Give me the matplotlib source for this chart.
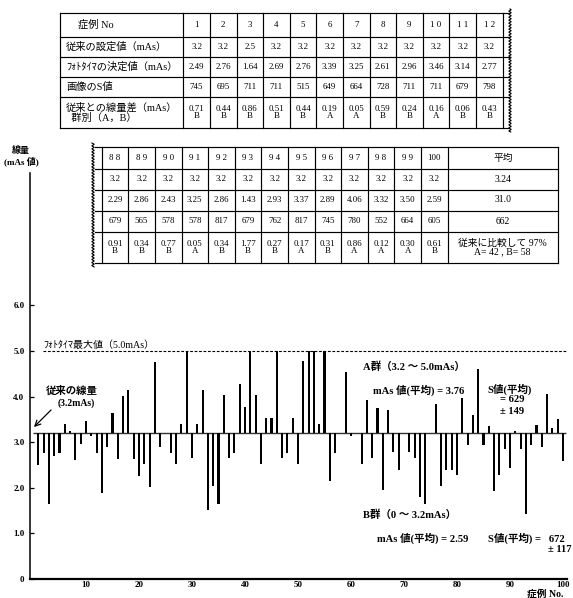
import numpy as np
import matplotlib
matplotlib.use('Agg')
import matplotlib.pyplot as plt

plt.rcParams['font.family'] = ['Liberation Serif', 'Noto Sans CJK JP']

# ---- data ----
case_no = list(range(1, 101))
phototimer_mas = [
    2.49, 2.76, 1.64, 2.69, 2.76, 3.39, 3.25, 2.61, 2.96, 3.46,
    3.14, 2.77, 1.88, 2.89, 3.64, 2.63, 4.01, 4.14, 2.63, 2.26,
    2.53, 2.02, 4.76, 2.89, 3.20, 2.76, 2.53, 3.39, 5.00, 2.65,
    3.40, 4.14, 1.52, 2.03, 1.65, 4.03, 2.65, 2.77, 4.28, 3.78,
    5.00, 4.03, 2.52, 3.52, 3.52, 5.00, 2.65, 2.77, 3.52, 2.52,
    4.78, 5.00, 5.00, 3.40, 5.00, 2.15, 2.77, 3.20, 4.53, 3.14,
    3.20, 2.52, 3.93, 2.65, 3.75, 1.95, 3.70, 2.79, 2.40, 3.20,
    2.79, 2.66, 1.79, 1.65, 3.20, 3.83, 2.03, 2.40, 2.40, 2.29,
    3.97, 2.94, 3.59, 4.61, 2.94, 3.35, 1.92, 2.29, 2.86, 2.43,
    3.25, 2.86, 1.43, 2.93, 3.37, 2.89, 4.06, 3.32, 3.50, 2.59,
]
baseline_mas = 3.2
max_mas = 5.0

y_ticks = [0, 1, 2, 3, 4, 5, 6]
y_tick_labels = ['0', '1.0', '2.0', '3.0', '4.0', '5.0', '6.0']
x_ticks = [10, 20, 30, 40, 50, 60, 70, 80, 90, 100]

row_labels = ['症例 No', '従来の設定値（mAs）', 'ﾌｫﾄﾀｲﾏの決定値（mAs）',
              '画像のS値', '従来との線量差（mAs）\n  群別（A，B）']

t1_cases = case_no[:12]
t1_conv = [3.2, 3.2, 2.5, 3.2, 3.2, 3.2, 3.2, 3.2, 3.2, 3.2, 3.2, 3.2]
t1_photo = phototimer_mas[:12]
t1_s = [745, 695, 711, 711, 515, 649, 664, 728, 711, 711, 679, 798]
t1_diff = [0.71, 0.44, 0.86, 0.51, 0.44, 0.19, 0.05, 0.59, 0.24, 0.16, 0.06, 0.43]
t1_group = ['B', 'B', 'B', 'B', 'B', 'A', 'A', 'B', 'B', 'A', 'B', 'B']

t2_cases = case_no[87:]
t2_conv = [3.2] * 13
t2_photo = phototimer_mas[87:]
t2_s = [679, 565, 578, 578, 817, 679, 762, 817, 745, 780, 552, 664, 605]
t2_diff = [0.91, 0.34, 0.77, 0.05, 0.34, 1.77, 0.27, 0.17, 0.31, 0.86, 0.12, 0.30, 0.61]
t2_group = ['B', 'B', 'B', 'A', 'B', 'B', 'B', 'A', 'B', 'A', 'A', 'A', 'B']

avg_header = '平均'
avg_values = ['3.24', '31.0', '662', '従来に比較して 97%\nA= 42 , B= 58']


def case_label(n):
    return str(n) if n >= 100 else ' '.join(str(n))


def table_columns(cases, conv, photo, s, diff, group):
    cols = []
    for i in range(len(cases)):
        cols.append([case_label(cases[i]), f'{conv[i]:g}', f'{photo[i]:.2f}',
                     str(s[i]), f'{diff[i]:.2f}\n{group[i]}'])
    return cols


fig = plt.figure(figsize=(5.73, 5.98), dpi=100)

# ---- bar chart ----
ax = fig.add_axes([30 / 573, 1 - 579 / 598, 537 / 573, 406 / 598])
ax.patch.set_alpha(0)
ax.bar(case_no, [v - baseline_mas for v in phototimer_mas], bottom=baseline_mas,
       width=0.4, color='black', zorder=3)
ax.hlines(baseline_mas, 0, 100.6, color='#333333', lw=1.0, zorder=2)
ax.hlines(max_mas, 1.8, 100.6, color='black', lw=0.8, linestyles=(0, (2.5, 1.5)))
ax.set_xlim(-0.57, 100.75)
ax.set_ylim(0, 8.9)
for side in ['top', 'right']:
    ax.spines[side].set_visible(False)
ax.spines['left'].set_linewidth(1.1)
ax.spines['bottom'].set_linewidth(1.6)
ax.set_yticks(y_ticks)
ax.set_yticklabels(y_tick_labels, fontsize=6.5, fontweight='bold')
ax.tick_params(axis='y', direction='in', length=3, width=0.9, pad=4)
ax.set_xticks(x_ticks)
ax.set_xticklabels([str(t) for t in x_ticks], fontsize=6.5, fontweight='bold')
ax.tick_params(axis='x', length=0, pad=1.5)

# ---- overlay in pixel coordinates for tables and notes ----
ov = fig.add_axes([0, 0, 1, 1])
ov.set_xlim(0, 573)
ov.set_ylim(598, 0)
ov.axis('off')
ov.patch.set_alpha(0)


def grid(col_x, row_y, x_start, x_end, lw=0.85):
    for x in col_x:
        ov.plot([x, x], [row_y[0], row_y[-1]], color='black', lw=lw)
    for y in row_y:
        ov.plot([x_start, x_end], [y, y], color='black', lw=lw)


def wavy(x, y0, y1):
    yy = np.linspace(y0, y1, 400)
    ov.plot(x + 1.1 * np.sin(yy * 2.1), yy, color='black', lw=0.8)


def fill_cells(cols, col_x, row_y):
    for c, col in enumerate(cols):
        xc = (col_x[c] + col_x[c + 1]) / 2
        for r, txt in enumerate(col):
            yc = (row_y[r] + row_y[r + 1]) / 2
            ov.text(xc, yc, txt, ha='center', va='center', fontsize=6.4,
                    linespacing=0.95)


# table 1
t1_rows = [13, 37, 57, 77, 97, 128]
t1_cols = [60, 183.3] + [183.3 + 26.6 * (i + 1) for i in range(12)]
grid(t1_cols, t1_rows, 60, 509)
wavy(510, 9, 132)
for r, lab in enumerate(row_labels):
    yc = (t1_rows[r] + t1_rows[r + 1]) / 2
    x = 78 if r == 0 else 66
    ov.text(x, yc, lab, ha='left', va='center', fontsize=7.4, linespacing=1.0)
fill_cells(table_columns(t1_cases, t1_conv, t1_photo, t1_s, t1_diff, t1_group),
           t1_cols[1:], t1_rows)

# table 2
t2_rows = [147, 169, 189.5, 210.5, 232, 263]
t2_cols = [101.7 + 26.6 * i for i in range(14)] + [558]
grid(t2_cols, t2_rows, 95, 558)
wavy(93, 143, 267)
fill_cells(table_columns(t2_cases, t2_conv, t2_photo, t2_s, t2_diff, t2_group),
           t2_cols[:-1], t2_rows)
xa = (t2_cols[-2] + t2_cols[-1]) / 2
for r, txt in enumerate([avg_header] + avg_values):
    yc = (t2_rows[r] + t2_rows[r + 1]) / 2
    ov.text(xa, yc, txt, ha='center', va='center', fontsize=7, linespacing=1.0)

# axis titles and notes
ov.text(21, 150, '線量', ha='center', va='center', fontsize=6.5, fontweight='bold')
ov.text(21, 161, '(mAs 値)', ha='center', va='center', fontsize=6.5, fontweight='bold')
ov.text(563, 594.5, '症例 No.', ha='right', va='center', fontsize=7, fontweight='bold')
ov.text(43, 345, 'ﾌｫﾄﾀｲﾏ最大値（5.0mAs）', ha='left', va='center', fontsize=7.2)
ov.text(72, 391, '従来の線量', ha='center', va='center', fontsize=7.5, fontweight='bold')
ov.text(76, 403, '(3.2mAs)', ha='center', va='center', fontsize=7, fontweight='bold')
ov.annotate('', xy=(32, 429), xytext=(53, 408),
            arrowprops=dict(arrowstyle='->', lw=0.9, color='black'))

note = dict(ha='left', va='center', fontsize=7.6, fontweight='bold')
ov.text(363, 367, 'A群（3.2 〜 5.0mAs）', **note)
ov.text(373, 390, 'mAs 値(平均) = 3.76', **note)
ov.text(487, 389, 'S値(平均)', **note)
ov.text(500, 400, '= 629', **note)
ov.text(500, 411, '± 149', **note)

ov.text(363, 515, 'B群（0 〜 3.2mAs）', **note)
ov.text(377, 538, 'mAs 値(平均) = 2.59', **note)
ov.text(488, 538, 'S値(平均) =   672', **note)
ov.text(572, 550, '± 117', ha='right', va='center', fontsize=7.6, fontweight='bold')

fig.savefig('out.png', dpi=100)
